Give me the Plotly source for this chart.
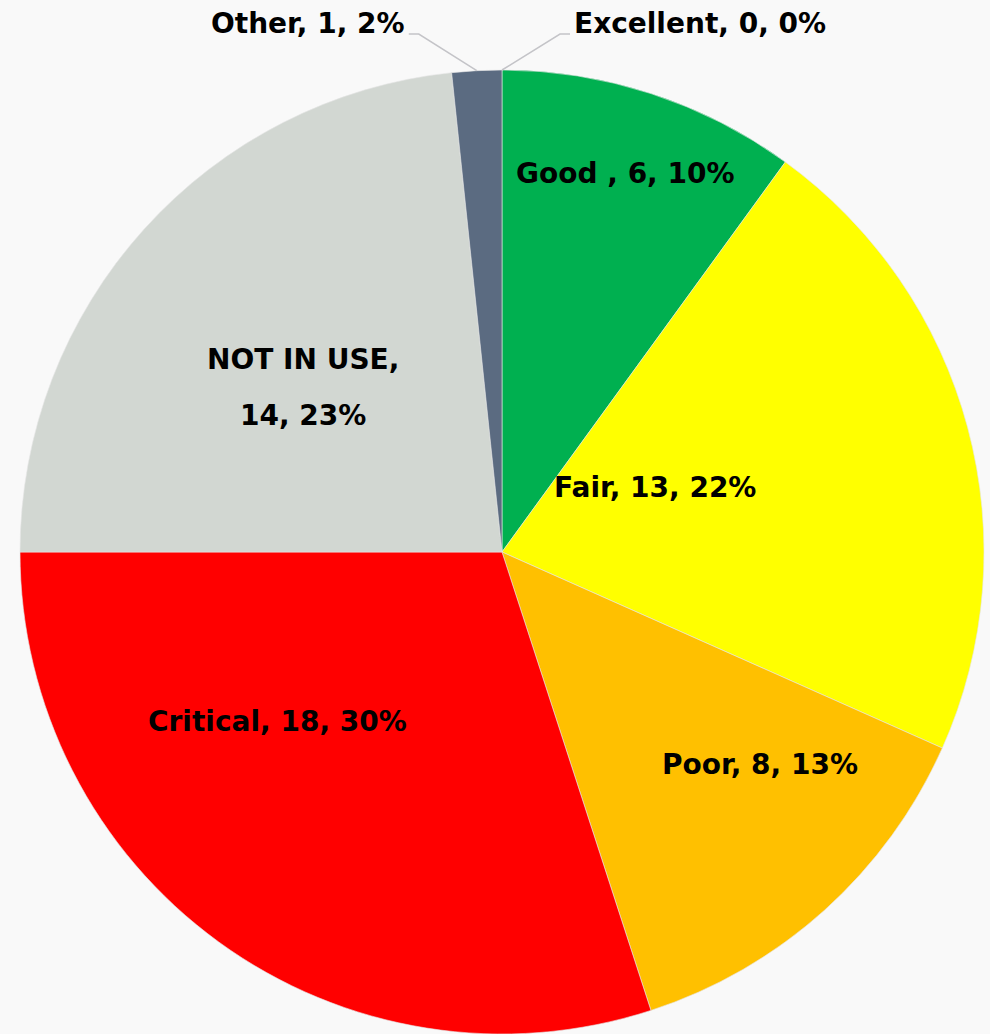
import math
import plotly.graph_objects as go

categories = ["Excellent", "Good ", "Fair", "Poor", "Critical", "NOT IN USE", "Other"]
counts = [0, 6, 13, 8, 18, 14, 1]
colors = ["#4472c4", "#00b050", "#ffff00", "#ffc000", "#ff0000", "#d2d7d2", "#5b6b81"]

# label placement style: (angle offset from slice middle in degrees, radius fraction)
label_place = {
    "Good ": (0, 0.826),
    "Fair": (-8, 0.344),
    "Poor": (-8.5, 0.693),
    "Critical": (17, 0.583),
    "NOT IN USE": (-2.5, 0.535),
}
outside = {"Other": "left", "Excellent": "right"}

W, H = 990, 1034
R = 482
CX, CY = 502, 552  # pixel center (from top)
FONT = dict(family="DejaVu Sans", size=28, color="#000000", weight="bold")

total = sum(counts)

fig = go.Figure(go.Pie(
    labels=categories,
    values=counts,
    textinfo="none",
    sort=False,
    direction="clockwise",
    rotation=0,
    marker=dict(colors=colors, line=dict(color="#e6e6e6", width=0.6)),
    domain=dict(x=[(CX - R) / W, (CX + R) / W], y=[(H - CY - R) / H, (H - CY + R) / H]),
    showlegend=False,
    hoverinfo="label+value+percent",
))


def to_paper(px, py):
    return px / W, 1 - py / H


cum = 0
for c, v in zip(categories, counts):
    mid = cum + v / 2
    cum += v
    pct = round(100 * v / total)
    th = 2 * math.pi * mid / total
    if c in label_place:
        off, rf = label_place[c]
        th2 = th + math.radians(off)
        lx = CX + rf * R * math.sin(th2)
        ly = CY - rf * R * math.cos(th2)
        if c == "NOT IN USE":
            lines = [f"{c},", f"{v}, {pct}%"]
        else:
            lines = [f"{c}, {v}, {pct}%"]
        n = len(lines)
        for i, line in enumerate(lines):
            x, y = to_paper(lx, ly + (i - (n - 1) / 2) * 56)
            fig.add_annotation(x=x, y=y, xref="paper", yref="paper", text=line,
                               showarrow=False, xanchor="center", yanchor="middle", font=FONT)
    elif c in outside:
        side = -1 if outside[c] == "left" else 1
        ex = CX + R * math.sin(th)
        ey = CY - R * math.cos(th)
        elx, ely = ex + side * 58, 34
        hx = elx + side * 10
        pts = [to_paper(ex, ey), to_paper(elx, ely), to_paper(hx, ely)]
        path = "M {} {} L {} {} L {} {}".format(*[f"{p:.5f}" for pt in pts for p in pt])
        fig.add_shape(type="path", path=path, xref="paper", yref="paper",
                      line=dict(color="#c4c4c8", width=1.5))
        tx, ty = to_paper(hx + side * 2, ely - 10)
        fig.add_annotation(x=tx, y=ty, xref="paper", yref="paper", text=f"{c}, {v}, {pct}%",
                           showarrow=False, xanchor="right" if side < 0 else "left",
                           yanchor="middle", font=FONT)

fig.update_layout(
    width=W, height=H,
    margin=dict(l=0, r=0, t=0, b=0),
    paper_bgcolor="#f9f9f9",
    plot_bgcolor="#f9f9f9",
)

fig.write_html("out.html", config={"displayModeBar": False},
               post_script="document.body.style.margin='0';")
